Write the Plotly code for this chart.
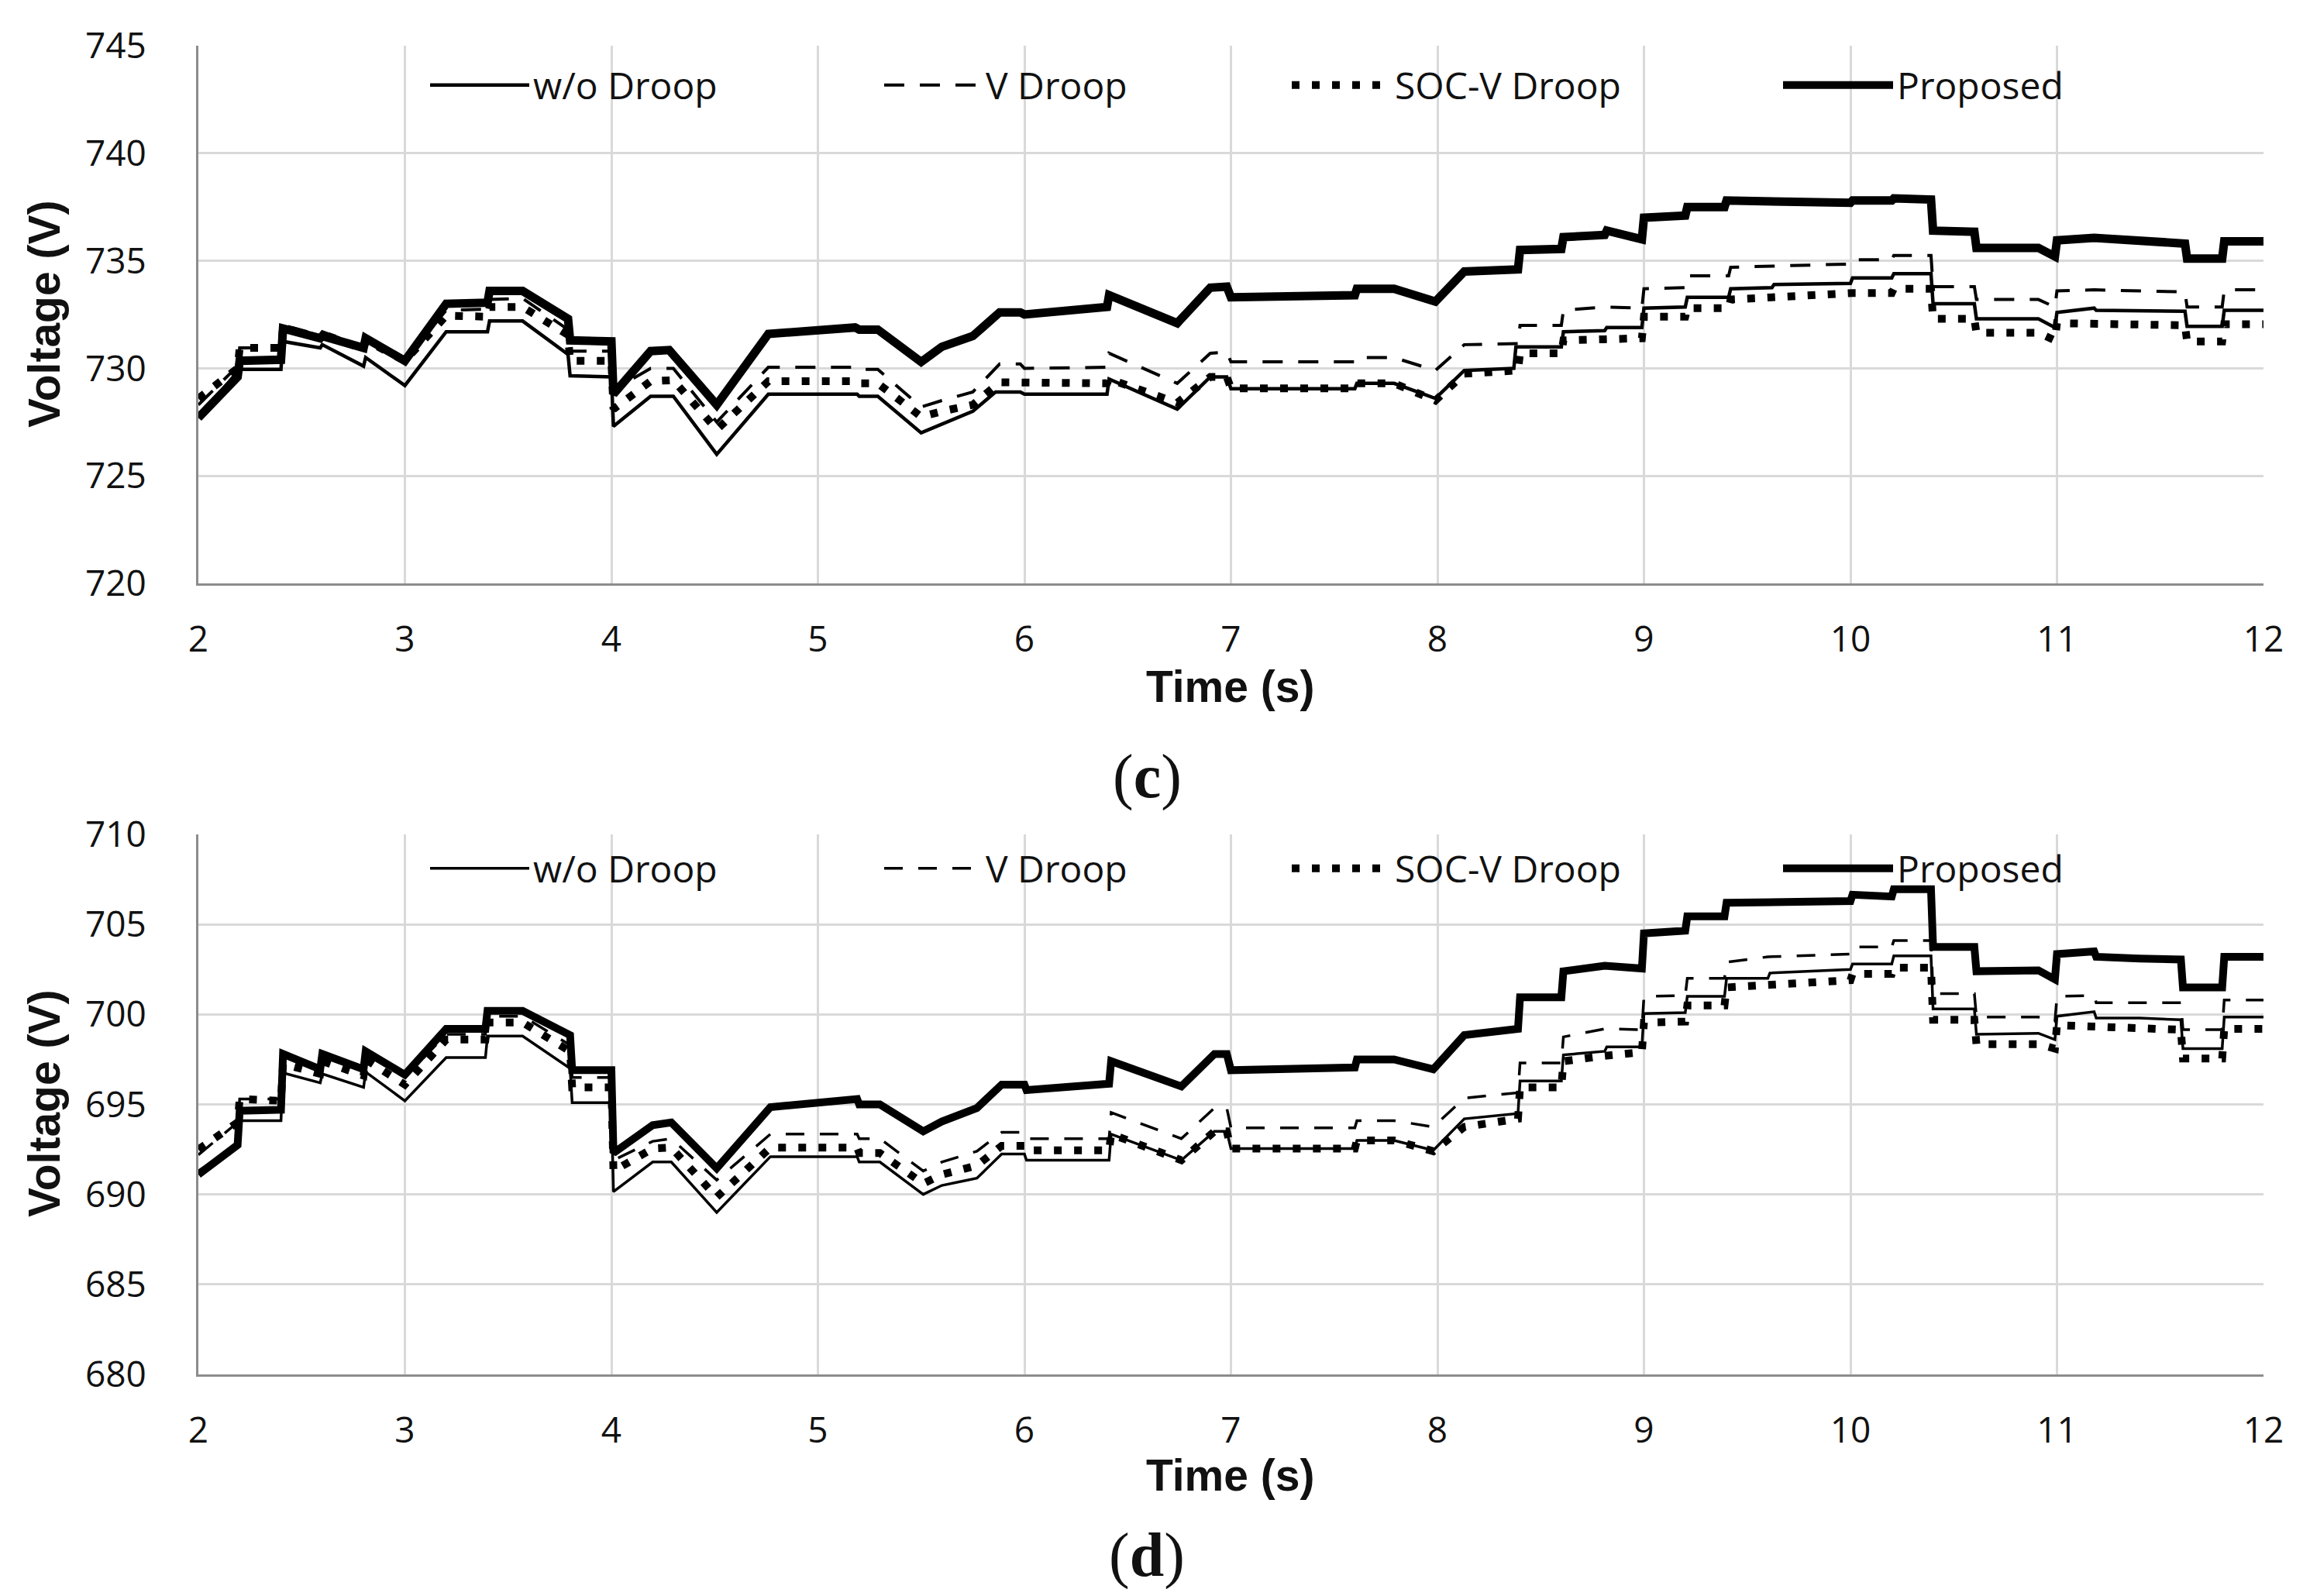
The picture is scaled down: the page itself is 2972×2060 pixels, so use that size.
import plotly.graph_objects as go

# ---------------- data: panel (c) ----------------
t_wo_c = [2.0,2.19,2.2,2.4,2.41,2.59,2.6,2.8,2.81,3.0,3.2,3.4,3.41,3.57,3.79,3.8,4.0,4.01,4.19,4.3,4.51,4.76,5.19,5.2,5.29,5.5,5.6,5.75,5.86,5.98,6.0,6.4,6.41,6.74,6.9,6.98,7.0,7.6,7.61,7.79,7.99,8.13,8.37,8.38,8.6,8.61,8.81,8.82,8.99,9.0,9.2,9.21,9.41,9.42,9.62,9.63,10.0,10.01,10.2,10.21,10.39,10.4,10.6,10.61,10.91,10.99,11.0,11.18,11.19,11.62,11.63,11.8,11.81,12.0]
v_wo_c = [727.7,729.8,729.95,729.95,731.25,730.95,731.1,730.1,730.5,729.2,731.7,731.7,732.2,732.2,730.65,729.65,729.6,727.3,728.7,728.7,726.0,728.8,728.8,728.7,728.7,727.0,727.4,728.0,728.9,728.9,728.8,728.8,729.5,728.1,729.6,729.6,729.05,729.05,729.3,729.3,728.6,729.9,730.0,731.0,731.0,731.7,731.75,731.9,731.9,732.8,732.85,733.3,733.3,733.7,733.75,733.9,733.95,734.2,734.2,734.4,734.4,733.0,733.0,732.3,732.3,731.9,732.6,732.8,732.7,732.65,731.95,731.95,732.7,732.7]

t_v_c = [2.0,2.19,2.2,2.4,2.41,2.59,2.6,2.8,2.81,3.0,3.2,3.4,3.41,3.57,3.79,3.8,4.0,4.01,4.19,4.3,4.51,4.76,5.19,5.2,5.29,5.5,5.6,5.75,5.88,5.98,6.0,6.4,6.41,6.74,6.9,6.98,7.0,7.6,7.61,7.79,7.99,8.13,8.39,8.4,8.6,8.61,8.81,8.99,9.0,9.2,9.21,9.41,9.42,9.62,10.0,10.01,10.2,10.21,10.39,10.4,10.6,10.61,10.91,10.99,11.0,11.18,11.62,11.63,11.8,11.81,12.0]
v_v_c = [728.3,730.1,730.95,730.95,732.0,731.55,731.7,731.0,731.4,730.4,732.7,732.75,733.2,733.25,731.8,730.8,730.8,729.0,730.0,730.0,727.5,730.05,730.05,729.95,729.95,728.2,728.5,728.9,730.2,730.2,730.0,730.05,730.7,729.3,730.7,730.75,730.3,730.3,730.5,730.5,729.9,731.1,731.15,732.0,732.0,732.7,732.85,732.8,733.7,733.75,734.3,734.3,734.7,734.75,734.85,735.05,735.05,735.25,735.25,733.8,733.8,733.2,733.2,732.85,733.6,733.65,733.55,732.85,732.85,733.65,733.65]

t_soc_c = [2.0,2.19,2.2,2.4,2.41,2.59,2.6,2.8,2.81,3.0,3.2,3.4,3.41,3.57,3.79,3.8,4.0,4.01,4.19,4.3,4.51,4.76,5.19,5.2,5.29,5.5,5.6,5.75,5.88,6.4,6.41,6.74,6.9,6.98,7.0,7.6,7.61,7.79,7.99,8.13,8.39,8.4,8.6,8.61,8.81,8.99,9.0,9.2,9.21,9.41,9.42,9.62,10.0,10.01,10.2,10.21,10.39,10.4,10.6,10.61,10.91,10.99,11.0,11.62,11.63,11.8,11.81,12.0]
v_soc_c = [728.6,730.0,730.95,730.95,731.9,731.4,731.6,730.9,731.3,730.35,732.45,732.4,732.85,732.85,731.55,730.35,730.35,728.1,729.4,729.45,727.15,729.4,729.4,729.3,729.3,727.75,728.0,728.3,729.35,729.3,729.5,728.4,729.6,729.6,729.07,729.07,729.3,729.3,728.5,729.75,729.9,730.7,730.7,731.3,731.35,731.4,732.4,732.4,732.8,732.8,733.2,733.3,733.45,733.5,733.5,733.7,733.7,732.3,732.3,731.65,731.65,731.3,732.1,732.0,731.25,731.25,732.05,732.05]

t_prop_c = [2.0,2.19,2.2,2.4,2.41,2.59,2.6,2.8,2.81,3.0,3.2,3.4,3.41,3.57,3.79,3.8,4.0,4.01,4.19,4.28,4.51,4.76,5.18,5.2,5.29,5.5,5.6,5.75,5.88,5.98,6.0,6.2,6.4,6.41,6.74,6.9,6.98,7.0,7.6,7.61,7.79,7.99,8.13,8.39,8.4,8.6,8.61,8.81,8.82,8.99,9.0,9.2,9.21,9.39,9.4,10.0,10.01,10.2,10.21,10.39,10.4,10.6,10.61,10.91,10.99,11.0,11.18,11.62,11.63,11.8,11.81,12.0]
v_prop_c = [727.7,729.6,730.35,730.4,731.85,731.4,731.5,730.95,731.4,730.35,733.0,733.05,733.6,733.6,732.3,731.3,731.25,728.8,730.8,730.85,728.3,731.6,731.9,731.8,731.8,730.3,731.0,731.5,732.6,732.6,732.5,732.7,732.85,733.4,732.1,733.75,733.8,733.3,733.4,733.7,733.7,733.1,734.5,734.6,735.5,735.55,736.1,736.2,736.4,736.0,737.0,737.1,737.5,737.5,737.8,737.7,737.8,737.8,737.9,737.85,736.4,736.35,735.6,735.6,735.2,735.95,736.07,735.8,735.1,735.1,735.9,735.9]

# ---------------- data: panel (d) ----------------
t_wo_d = [2.0,2.19,2.2,2.4,2.41,2.59,2.6,2.8,2.81,3.0,3.2,3.39,3.4,3.57,3.8,3.81,4.0,4.01,4.2,4.29,4.51,4.77,5.19,5.2,5.3,5.51,5.6,5.77,5.89,6.0,6.01,6.41,6.42,6.76,6.92,6.98,7.0,7.6,7.61,7.79,7.98,8.13,8.39,8.4,8.6,8.61,8.81,8.82,8.99,9.0,9.2,9.21,9.39,9.4,9.6,9.61,10.0,10.01,10.2,10.21,10.39,10.4,10.6,10.61,10.91,10.99,11.0,11.18,11.19,11.4,11.6,11.61,11.8,11.81,12.0]
v_wo_d = [691.3,692.75,694.1,694.1,696.75,696.2,696.7,695.95,696.8,695.2,697.6,697.6,698.8,698.8,697.0,695.1,695.1,690.15,691.8,691.8,689.0,692.1,692.1,691.8,691.8,690.0,690.5,690.9,692.25,692.25,691.9,691.9,693.35,691.9,693.5,693.5,692.55,692.55,693.0,693.0,692.45,694.2,694.5,696.3,696.3,697.75,697.95,698.2,698.2,700.05,700.1,701.0,701.0,702.0,702.0,702.3,702.5,702.8,702.8,703.25,703.25,700.3,700.3,698.9,698.95,698.6,699.9,700.15,699.8,699.8,699.7,698.1,698.1,699.85,699.85]

t_v_d = [2.0,2.19,2.2,2.4,2.41,2.59,2.6,2.8,2.81,3.0,3.2,3.39,3.4,3.57,3.8,3.81,4.0,4.01,4.2,4.29,4.51,4.77,5.19,5.2,5.3,5.51,5.6,5.77,5.89,6.0,6.01,6.41,6.42,6.76,6.92,6.98,7.0,7.6,7.61,7.79,7.98,8.13,8.39,8.4,8.6,8.61,8.81,8.99,9.0,9.2,9.21,9.39,9.4,9.6,10.0,10.01,10.2,10.21,10.39,10.4,10.6,10.61,10.91,10.99,11.0,11.18,11.19,11.6,11.61,11.8,11.81,12.0]
v_v_d = [692.2,694.0,695.3,695.3,697.6,697.0,697.7,696.9,697.8,696.5,698.9,698.9,699.9,699.9,698.3,696.5,696.5,691.9,692.95,693.1,690.8,693.35,693.35,693.1,693.1,691.3,691.8,692.4,693.45,693.45,693.1,693.1,694.55,693.1,694.8,694.8,693.7,693.7,694.1,694.1,693.75,695.35,695.65,697.3,697.3,698.75,699.2,699.15,701.0,701.05,702.0,702.0,702.9,703.2,703.35,703.75,703.75,704.1,704.1,701.15,701.15,699.85,699.85,699.6,701.0,701.05,700.65,700.65,699.15,699.15,700.8,700.8]

t_soc_d = [2.0,2.19,2.2,2.4,2.41,2.59,2.6,2.8,2.81,3.0,3.2,3.39,3.4,3.57,3.8,3.81,4.0,4.01,4.2,4.29,4.51,4.77,5.19,5.2,5.3,5.51,5.6,5.77,5.89,6.0,6.01,6.41,6.42,6.76,6.92,6.98,7.0,7.6,7.61,7.79,7.98,8.13,8.39,8.4,8.6,8.61,8.81,8.99,9.0,9.2,9.21,9.39,9.4,9.6,10.0,10.01,10.2,10.21,10.39,10.4,10.6,10.61,10.91,10.99,11.0,11.6,11.61,11.8,11.81,12.0]
v_soc_d = [692.5,694.0,695.3,695.2,697.25,696.7,697.4,696.6,697.5,696.1,698.6,698.6,699.55,699.55,697.95,695.95,695.95,691.3,692.55,692.6,689.85,692.6,692.6,692.3,692.3,690.6,691.1,691.6,692.7,692.7,692.45,692.45,693.35,691.9,693.5,693.5,692.55,692.55,693.0,693.0,692.4,693.75,694.2,695.95,695.95,697.4,697.7,697.9,699.55,699.6,700.5,700.5,701.5,701.65,701.9,702.25,702.25,702.6,702.6,699.7,699.7,698.35,698.35,698.1,699.4,699.15,697.55,697.55,699.2,699.2]

t_prop_d = [2.0,2.19,2.2,2.4,2.41,2.59,2.6,2.8,2.81,3.0,3.2,3.39,3.4,3.57,3.8,3.81,4.0,4.01,4.2,4.29,4.51,4.77,5.19,5.2,5.3,5.51,5.6,5.77,5.89,6.0,6.01,6.2,6.41,6.42,6.76,6.92,6.98,7.0,7.6,7.61,7.79,7.98,8.13,8.39,8.4,8.6,8.61,8.81,8.99,9.0,9.2,9.21,9.39,9.4,9.6,10.0,10.01,10.2,10.21,10.39,10.4,10.6,10.61,10.91,10.99,11.0,11.18,11.19,11.4,11.6,11.61,11.8,11.81,12.0]
v_prop_d = [691.1,692.75,694.65,694.7,697.8,696.95,697.8,696.95,697.95,696.65,699.2,699.2,700.2,700.2,698.85,696.9,696.9,692.3,693.85,694.0,691.45,694.85,695.3,695.0,695.0,693.5,694.05,694.8,696.1,696.1,695.8,696.0,696.15,697.4,696.0,697.8,697.8,696.9,697.05,697.5,697.5,696.95,698.85,699.2,700.95,700.95,702.4,702.7,702.55,704.5,704.65,705.45,705.45,706.2,706.25,706.3,706.65,706.55,706.95,706.95,703.75,703.75,702.4,702.45,701.95,703.35,703.5,703.2,703.1,703.05,701.5,701.5,703.2,703.2]

series_names = ["w/o Droop", "V Droop", "SOC-V Droop", "Proposed"]
x_ticks = [2, 3, 4, 5, 6, 7, 8, 9, 10, 11, 12]
y_ticks_c = [720, 725, 730, 735, 740, 745]
y_ticks_d = [680, 685, 690, 695, 700, 705, 710]
panel_labels = ["c", "d"]

W, H = 2972, 2060
OFF = 8  # page body margin offset
def px(x):
    return (x - OFF) / W
def py(y):
    return 1 - (y - OFF) / H

styles = [
    dict(color="black", width=4.5, dash="solid"),
    dict(color="black", width=4, dash="26px,20px"),
    dict(color="black", width=10, dash="10px,16px"),
    dict(color="black", width=11, dash="solid"),
]
styles_d = [
    dict(color="black", width=3.5, dash="solid"),
    dict(color="black", width=3.5, dash="24px,20px"),
    dict(color="black", width=10, dash="10px,16px"),
    dict(color="black", width=10, dash="solid"),
]

fig = go.Figure()
data_c = [(t_wo_c, v_wo_c), (t_v_c, v_v_c), (t_soc_c, v_soc_c), (t_prop_c, v_prop_c)]
data_d = [(t_wo_d, v_wo_d), (t_v_d, v_v_d), (t_soc_d, v_soc_d), (t_prop_d, v_prop_d)]

for i, (t, v) in enumerate(data_c):
    fig.add_trace(go.Scatter(x=t, y=v, mode="lines", name=series_names[i],
                             line=styles[i], xaxis="x", yaxis="y",
                             legend="legend" if i == 0 else f"legend{i+1}"))
for i, (t, v) in enumerate(data_d):
    fig.add_trace(go.Scatter(x=t, y=v, mode="lines", name=series_names[i],
                             line=styles_d[i], xaxis="x2", yaxis="y2",
                             legend=f"legend{i+5}"))

legend_x = [550, 1136, 1662, 2296]
legend_w = [128, 126, 128, 142]
legend_font = dict(family="Open Sans, Liberation Sans Narrow, sans-serif", size=48, color="#111")
leg = {}
for k in range(8):
    key = "legend" if k == 0 else f"legend{k+1}"
    leg[key] = dict(x=px(legend_x[k % 4]), y=py(110 if k < 4 else 1121),
                    xanchor="left", yanchor="middle", orientation="h",
                    bgcolor="rgba(0,0,0,0)", itemwidth=legend_w[k % 4], font=legend_font,
                    tracegroupgap=0)

grid = "#d9d9d9"
axis_line = "#8c8c8c"
tick_font = dict(family="Open Sans, sans-serif", size=46, color="#111")
xcommon = dict(range=[2, 12], tickvals=x_ticks, showgrid=True, gridcolor=grid, gridwidth=3,
               showline=True, linecolor=axis_line, linewidth=3, zeroline=False,
               tickfont=tick_font, ticks="", ticklabelstandoff=30, automargin=False,
               domain=[px(256), px(2921)])
ycommon = dict(showgrid=True, gridcolor=grid, gridwidth=3, showline=True, linecolor=axis_line,
               linewidth=3, zeroline=False, tickfont=tick_font, ticks="", ticklabelstandoff=55,
               automargin=False)

fig.update_layout(
    width=W, height=H,
    margin=dict(l=0, r=0, t=0, b=0, pad=0, autoexpand=False),
    paper_bgcolor="white", plot_bgcolor="white",
    showlegend=True,
    xaxis=dict(**xcommon, anchor="y"),
    yaxis=dict(**ycommon, range=[720, 745], tickvals=y_ticks_c,
               domain=[py(753), py(59)], anchor="x"),
    xaxis2=dict(**xcommon, anchor="y2"),
    yaxis2=dict(**ycommon, range=[680, 710], tickvals=y_ticks_d,
                domain=[py(1774), py(1077)], anchor="x2"),
    **leg,
)

title_font = dict(family="Liberation Sans, Arial, sans-serif", size=57, color="#111")
ann = []
for yc, yt, yl, lab in [(406, 886, 1002, panel_labels[0]), (1425, 1904, 2007, panel_labels[1])]:
    ann.append(dict(text="<b>Voltage (V)</b>", x=px(57), y=py(yc), xref="paper", yref="paper",
                    textangle=-90, showarrow=False, font=title_font, xanchor="center", yanchor="middle"))
    ann.append(dict(text="<b>Time (s)</b>", x=px(1588), y=py(yt), xref="paper", yref="paper",
                    showarrow=False, font=title_font, xanchor="center", yanchor="middle"))
    ann.append(dict(text=f"(<b>{lab}</b>)", x=px(1480), y=py(yl), xref="paper", yref="paper",
                    showarrow=False, font=dict(family="Liberation Serif, Times New Roman, serif", size=80, color="#111"),
                    xanchor="center", yanchor="middle"))
fig.update_layout(annotations=ann)

fig.write_html("out.html")
